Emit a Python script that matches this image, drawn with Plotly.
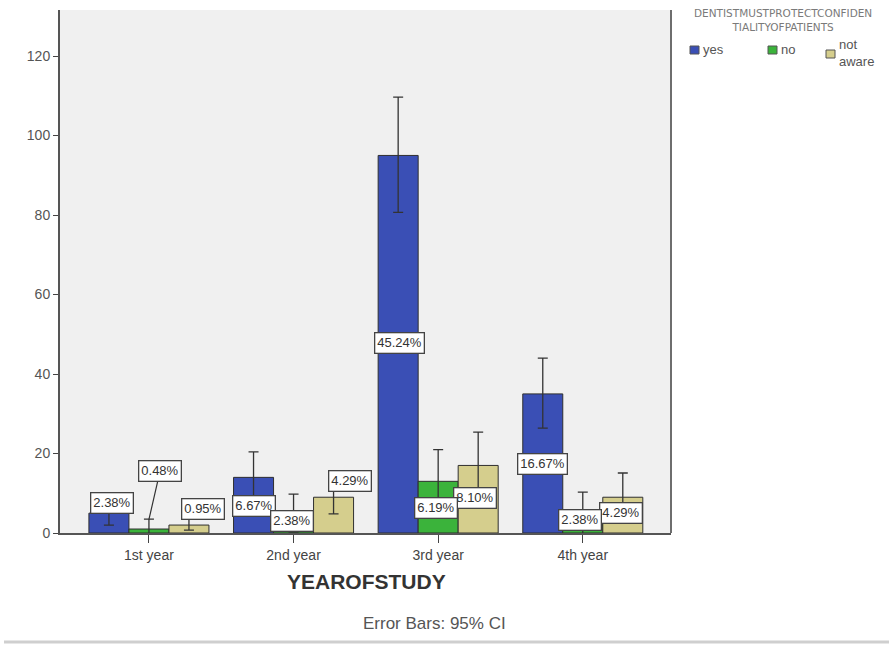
import plotly.graph_objects as go

# Counts per year of study and response, with 95% CI bounds
years = ["1st year", "2nd year", "3rd year", "4th year"]
yes_counts = [5, 14, 95, 35]
no_counts = [1, 5, 13, 5]
na_counts = [2, 9, 17, 9]

yes_err_up = [3.0, 6.4, 14.7, 9.0]
yes_err_down = [3.0, 6.4, 14.3, 8.6]
no_err_up = [2.5, 4.8, 8.0, 5.3]
no_err_down = [2.5, 4.8, 8.0, 5.3]
na_err_up = [2.2, 6.1, 8.4, 6.1]
na_err_down = [1.3, 4.2, 8.4, 4.2]

yes_pct = ["2.38%", "6.67%", "45.24%", "16.67%"]
no_pct = ["0.48%", "2.38%", "6.19%", "2.38%"]
na_pct = ["0.95%", "4.29%", "8.10%", "4.29%"]

# Label placement: (offset from category centre, height in data units)
yes_lab_pos = [(-0.256, 7.55), (-0.273, 6.8), (-0.270, 47.8), (-0.280, 17.4)]
no_lab_pos = [(0.076, 15.3), (-0.010, 3.0), (-0.014, 6.3), (-0.017, 3.3)]
na_lab_pos = [(0.374, 6.0), (0.391, 13.1), (0.256, 8.8), (0.266, 5.0)]

BLUE = "#3a4fb5"
GREEN = "#3bb33b"
KHAKI = "#d5ce8d"
EDGE = "#2f2f2f"
LABEL_FONT = dict(family="Liberation Sans, Arial", size=13, color="#333333")

fig = go.Figure()

series = [
    ("yes", yes_counts, yes_err_up, yes_err_down, BLUE),
    ("no", no_counts, no_err_up, no_err_down, GREEN),
    ("not aware", na_counts, na_err_up, na_err_down, KHAKI),
]
for name, vals, up, down, col in series:
    fig.add_trace(go.Bar(
        x=years, y=vals, name=name, showlegend=False,
        marker=dict(color=col, line=dict(color=EDGE, width=1)),
        error_y=dict(type="data", symmetric=False, array=up, arrayminus=down,
                     color="#333333", thickness=1.3, width=5),
    ))

# Percentage labels (drawn back to front so overlaps layer correctly)
label_sets = [
    (na_pct, na_lab_pos),
    (yes_pct, yes_lab_pos),
    (no_pct, no_lab_pos),
]
for texts, positions in label_sets:
    for i, (txt, (dx, yv)) in enumerate(zip(texts, positions)):
        if texts is no_pct and i == 0:
            continue
        fig.add_annotation(
            x=i + dx, y=yv, xref="x", yref="y", text=txt, showarrow=False,
            font=LABEL_FONT,
            bgcolor="white", bordercolor="#444444", borderwidth=1.3, borderpad=2,
        )

# 1st-year "no" label sits above the bar with a leader line
fig.add_annotation(
    x=0, y=3.4, xref="x", yref="y", text=no_pct[0], showarrow=True,
    arrowhead=0, arrowwidth=1.2, arrowcolor="#333333", ax=11, ay=-48,
    font=LABEL_FONT,
    bgcolor="white", bordercolor="#444444", borderwidth=1.3, borderpad=2,
)

# Right border of the plot frame
fig.add_shape(type="line", xref="paper", yref="paper", x0=1, x1=1, y0=0, y1=1,
              line=dict(color="#6e6e6e", width=2))

# Legend drawn by hand to the right of the plot
W, H = 611.0, 523.0
def px(xp):
    return (xp - 60) / W
def py(yp):
    return (533 - yp) / H

fig.add_annotation(
    x=px(783), y=py(20), xref="paper", yref="paper", showarrow=False,
    text="DENTISTMUSTPROTECTCONFIDEN<br>TIALITYOFPATIENTS",
    font=dict(family="DejaVu Sans", size=10.5, color="#7a7a7a"),
    xanchor="center", yanchor="middle", align="center",
)
legend_items = [("yes", BLUE, 690, 50), ("no", GREEN, 768, 50), ("not<br>aware", KHAKI, 826, 54)]
for txt, col, x0, yc in legend_items:
    fig.add_shape(type="rect", xref="paper", yref="paper",
                  x0=px(x0), x1=px(x0 + 9), y0=py(yc - 4), y1=py(yc + 4),
                  fillcolor=col, line=dict(color="#555555", width=1))
    fig.add_annotation(
        x=px(x0 + 11), y=py(yc if txt != "not<br>aware" else 53), xref="paper", yref="paper",
        text=txt, showarrow=False, xanchor="left", yanchor="middle", align="left",
        font=dict(family="Liberation Sans, Arial", size=13, color="#555555"),
    )

# Axis title and note below the chart
fig.add_annotation(
    x=px(366), y=py(581), xref="paper", yref="paper", showarrow=False,
    text="<b>YEAROFSTUDY</b>",
    font=dict(family="Liberation Sans, Arial", size=21, color="#333333"),
    xanchor="center", yanchor="middle",
)
fig.add_annotation(
    x=px(434), y=py(623), xref="paper", yref="paper", showarrow=False,
    text="Error Bars: 95% CI",
    font=dict(family="Liberation Sans, Arial", size=17, color="#555555"),
    xanchor="center", yanchor="middle",
)
fig.add_shape(type="line", xref="paper", yref="paper",
              x0=px(4), x1=px(889), y0=py(642), y1=py(642),
              line=dict(color="#cfcfcf", width=3))

fig.update_layout(
    width=889, height=646,
    margin=dict(l=60, r=218, t=10, b=113),
    paper_bgcolor="white", plot_bgcolor="#f0f0f0",
    barmode="group", bargap=0.17, bargroupgap=0,
    font=dict(family="Liberation Sans, Arial", color="#444444"),
    showlegend=False,
)
fig.update_xaxes(
    type="category", range=[-0.615, 3.61],
    showline=True, linecolor="#555555", linewidth=2,
    ticks="outside", ticklen=8, tickcolor="#444444", tickwidth=1.3,
    tickfont=dict(size=14, color="#444444"), showgrid=False, zeroline=False,
)
fig.update_yaxes(
    range=[0, 131.6], tickvals=[0, 20, 40, 60, 80, 100, 120],
    showline=True, linecolor="#555555", linewidth=2,
    ticks="outside", ticklen=5, tickcolor="#444444", tickwidth=1.3,
    tickfont=dict(size=14, color="#555555"), showgrid=False, zeroline=False,
)

fig.write_html("out.html")
